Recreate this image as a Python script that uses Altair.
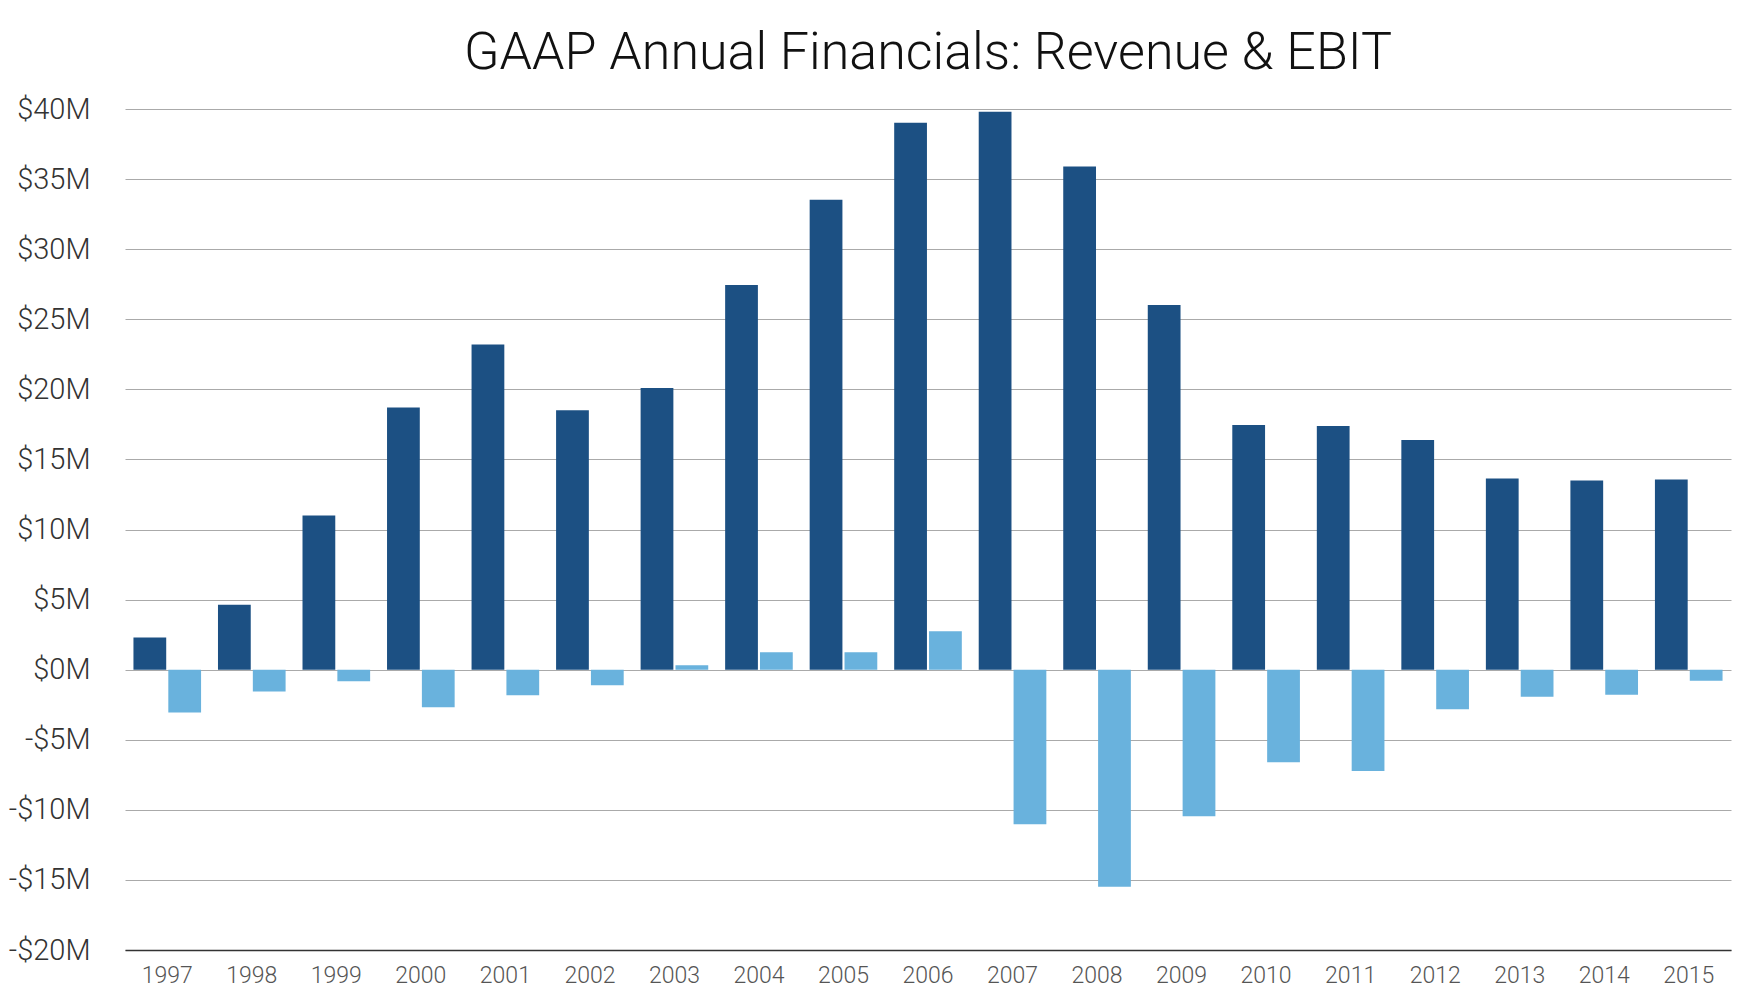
import altair as alt
import pandas as pd

years = [str(y) for y in range(1997, 2016)]
revenue = [2.29, 4.64, 11.0, 18.7, 23.2, 18.5, 20.1, 27.45, 33.52, 39.02,
           39.8, 35.9, 26.02, 17.45, 17.38, 16.38, 13.64, 13.5, 13.57]
ebit = [-3.05, -1.55, -0.83, -2.69, -1.83, -1.12, 0.31, 1.24, 1.24, 2.74,
        -11.02, -15.48, -10.45, -6.6, -7.23, -2.83, -1.93, -1.79, -0.79]
series = ["Revenue", "EBIT"]
colors = ["#1c5083", "#69b2dd"]

rows = []
for i, y in enumerate(years):
    rows.append({"year": y, "series": "Revenue", "value": revenue[i]})
    rows.append({"year": y, "series": "EBIT", "value": ebit[i]})
df = pd.DataFrame(rows)

FONT = "Roboto"

chart = alt.Chart(df).mark_bar().encode(
    x=alt.X("year:N", sort=years,
            scale=alt.Scale(paddingInner=0.2, paddingOuter=0.1),
            axis=alt.Axis(title=None, labelAngle=0, ticks=False, domain=True,
                          domainColor="#333333", domainWidth=1.5,
                          labelFont=FONT, labelFontWeight=300, labelFontSize=23,
                          labelColor="#555555", labelPadding=14)),
    xOffset=alt.XOffset("series:N", sort=series,
                        scale=alt.Scale(paddingInner=0.06, paddingOuter=0)),
    y=alt.Y("value:Q",
            scale=alt.Scale(domain=[-20, 40], nice=False),
            axis=alt.Axis(title=None, values=list(range(-20, 45, 5)),
                          ticks=False, domain=False, grid=True,
                          gridColor="#aaaaaa", gridWidth=1,
                          labelExpr="datum.value < 0 ? '-$' + abs(datum.value) + 'M' : '$' + datum.value + 'M'",
                          labelFont=FONT, labelFontWeight=300, labelFontSize=29,
                          labelColor="#333333", labelPadding=35)),
    color=alt.Color("series:N", sort=series,
                    scale=alt.Scale(domain=series, range=colors), legend=None),
).properties(
    width=1606,
    height=841,
    title=alt.TitleParams("GAAP Annual Financials: Revenue & EBIT",
                          font=FONT, fontWeight=300, fontSize=52,
                          color="#111111", anchor="middle", offset=15),
    padding={"left": 117, "top": 101, "right": 5, "bottom": 40},
    autosize="none",
).configure_view(stroke=None)

chart.save("out.html", embed_options={"renderer": "svg", "actions": False})
